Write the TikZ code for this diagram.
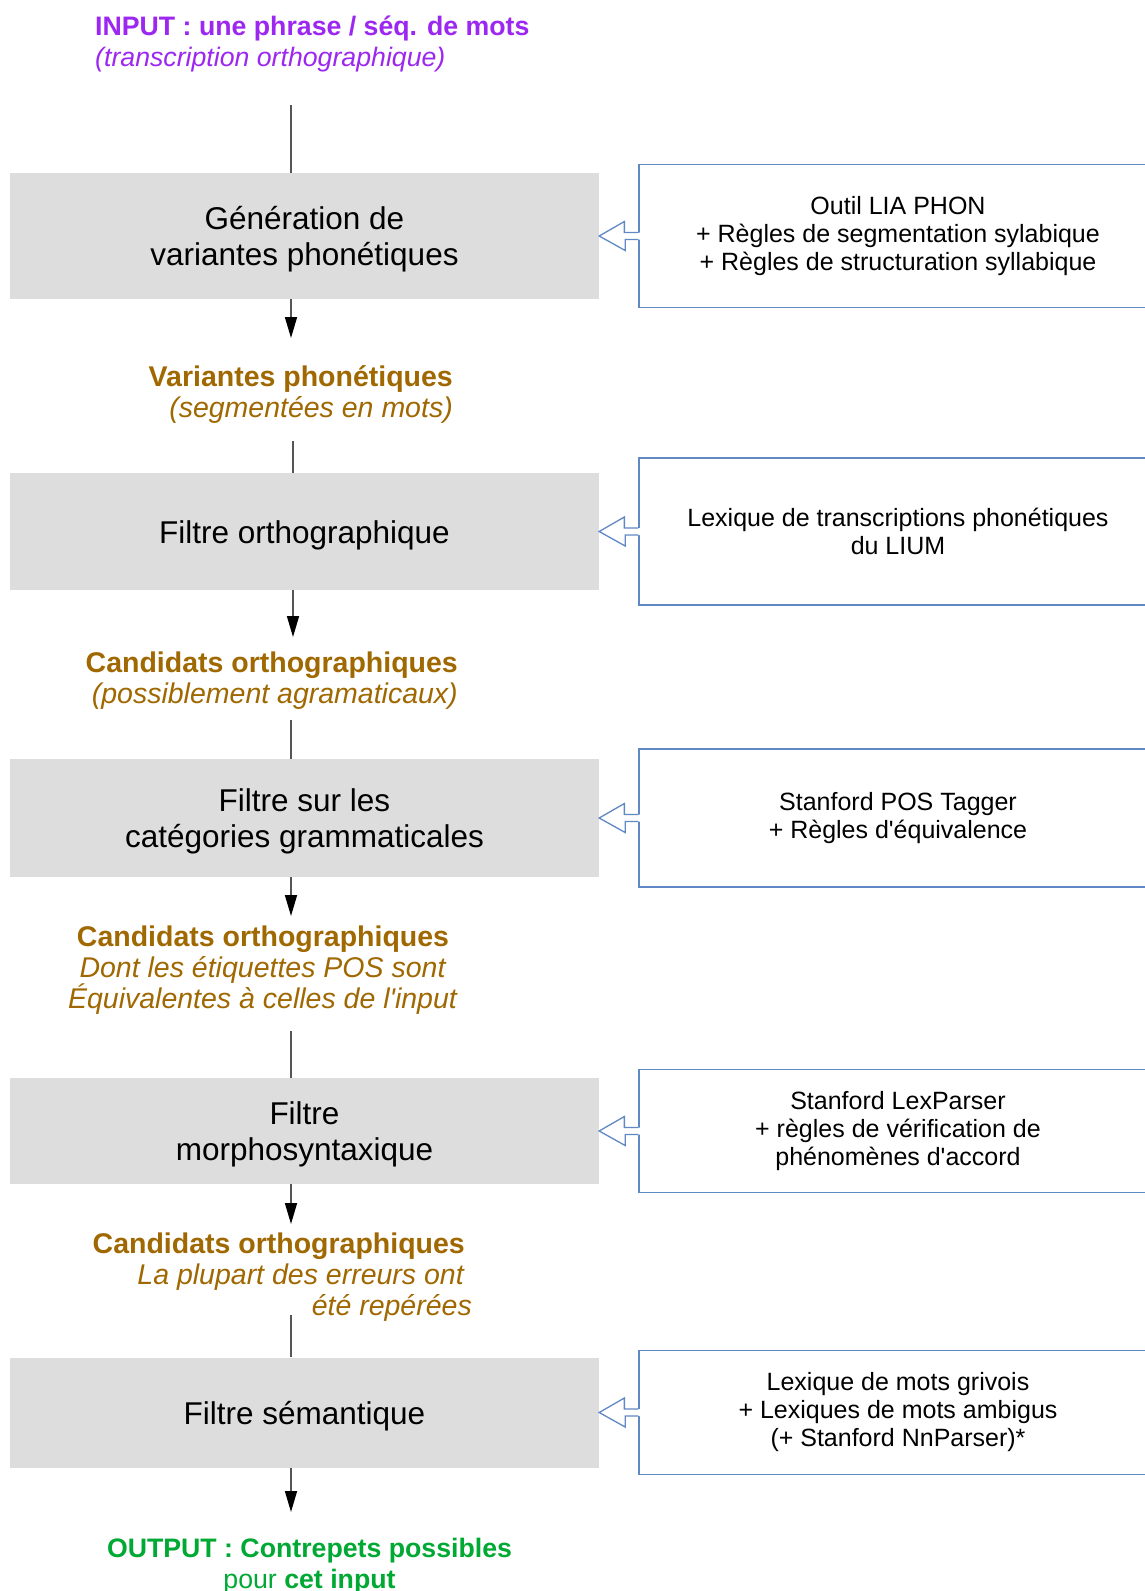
\documentclass[tikz,border=0pt]{standalone}
\usepackage{fontspec}
\setmainfont{Liberation Sans}
\usetikzlibrary{arrows.meta}
\definecolor{inpurple}{HTML}{9C27F0}
\definecolor{midbrown}{HTML}{A06800}
\definecolor{outgreen}{HTML}{00A933}
\definecolor{boxgrey}{HTML}{DDDDDD}
\definecolor{toolblue}{HTML}{6088C4}
\definecolor{linegrey}{HTML}{555555}
\newcommand\stagestrut{\rule{0pt}{30pt}}
\newcommand\blkarrow[2]{%
  \fill[white] ([yshift=3.5pt,xshift=1.5pt]#1.west) -- ++(-15.5pt,0) -- ++(0,11pt) -- (#2.east)
     -- ++(26pt,-14.5pt) -- ++(0,11pt) -- ([yshift=-3.5pt,xshift=1.5pt]#1.west) -- cycle;
  \draw[blk] ([yshift=3.5pt]#1.west) -- ++(-14pt,0) -- ++(0,11pt) -- (#2.east)
     -- ++(26pt,-14.5pt) -- ++(0,11pt) -- ([yshift=-3.5pt]#1.west);}
\begin{document}
\begin{tikzpicture}[x=1pt,y=-1pt,
  stage/.style={fill=boxgrey, minimum width=589pt, inner sep=0pt, align=center,
    font=\fontsize{31.5}{36}\selectfont},
  tool/.style={draw=toolblue, line width=1.3pt, minimum width=518pt, inner sep=0pt,
    align=center, font=\fontsize{25}{28}\selectfont},
  midtext/.style={inner sep=0pt, text=midbrown, font=\fontsize{28.5}{31}\selectfont},
  endtext/.style={inner sep=0pt, font=\fontsize{26.7}{31}\selectfont},
  conn/.style={draw=linegrey, line width=1.6pt},
  flow/.style={conn, -{Triangle[length=21pt,width=12pt,color=black]}},
  blk/.style={draw=toolblue, line width=1.3pt, line join=miter}]
\useasboundingbox (0,0) rectangle (1145,1591);
\clip (0,0) rectangle (1145,1591);
\fill[white] (0,0) rectangle (1145,1591);

% input / output texts
\node[endtext, text=inpurple, anchor=west, align=left] (inp) at (95,43.5)
  {\textbf{INPUT : une phrase / séq. de mots}\\\textit{(transcription orthographique)}};
\node[endtext, text=outgreen, align=center] (outp) at (309.5,1566)
  {\textbf{OUTPUT : Contrepets possibles}\\pour \textbf{cet input}};

% intermediate texts
\node[midtext, anchor=east, align=right] (m1) at (453,394)
  {\textbf{Variantes phonétiques}\\\textit{(segmentées en mots)}};
\node[midtext, anchor=east, align=right] (m2) at (458,681)
  {\textbf{Candidats orthographiques}\\\textit{(possiblement agramaticaux)}};
\node[midtext, align=center] (m3) at (263,970.5)
  {\textbf{Candidats orthographiques}\\\textit{Dont les étiquettes POS sont}\\\textit{Équivalentes à celles de l\textquotesingle input}};
\node[midtext, anchor=east, align=right] (m4) at (465,1277.5)
  {\textbf{Candidats orthographiques}\\\textit{La plupart des erreurs ont}\\\textit{été repérées}\hspace*{-7pt}};

% stages
\node[stage, minimum height=126pt] (B1) at (304.5,236) {\stagestrut Génération de\\variantes phonétiques};
\node[stage, minimum height=117pt] (B2) at (304.5,531.5) {\stagestrut Filtre orthographique};
\node[stage, minimum height=118pt] (B3) at (304.5,818) {\stagestrut Filtre sur les\\catégories grammaticales};
\node[stage, minimum height=106pt] (B4) at (304.5,1131) {\stagestrut Filtre\\morphosyntaxique};
\node[stage, minimum height=110pt] (B5) at (304.5,1412.5) {\stagestrut Filtre sémantique};

% tools
\node[tool, minimum height=143pt] (R1) at (898,236)
  {Outil LIA PHON\\+ Règles de segmentation sylabique\\+ Règles de structuration syllabique};
\node[tool, minimum height=147pt] (R2) at (898,531.5)
  {Lexique de transcriptions phonétiques\\du LIUM};
\node[tool, minimum height=138pt] (R3) at (898,818)
  {Stanford POS Tagger\\+ Règles d\textquotesingle équivalence};
\node[tool, minimum height=123pt] (R4) at (898,1131)
  {Stanford LexParser\\+ règles de vérification de\\phénomènes d\textquotesingle accord};
\node[tool, minimum height=124pt] (R5) at (898,1412.5)
  {Lexique de mots grivois\\+ Lexiques de mots ambigus\\(+ Stanford NnParser)*};

\blkarrow{R1}{B1}
\blkarrow{R2}{B2}
\blkarrow{R3}{B3}
\blkarrow{R4}{B4}
\blkarrow{R5}{B5}

% vertical connectors
\coordinate (s1) at (291,105);
\coordinate (t1) at (291,338);
\coordinate (s2) at (293,441);
\coordinate (t2) at (293,637);
\coordinate (s3) at (291,720);
\coordinate (t3) at (291,916);
\coordinate (s4) at (291,1031);
\coordinate (t4) at (291,1224);
\coordinate (s5) at (291,1315);
\coordinate (t5) at (291,1512);
\draw[conn] (s1) -- (s1 |- B1.north);
\draw[flow] (t1 |- B1.south) -- (t1);
\draw[conn] (s2) -- (s2 |- B2.north);
\draw[flow] (t2 |- B2.south) -- (t2);
\draw[conn] (s3) -- (s3 |- B3.north);
\draw[flow] (t3 |- B3.south) -- (t3);
\draw[conn] (s4) -- (s4 |- B4.north);
\draw[flow] (t4 |- B4.south) -- (t4);
\draw[conn] (s5) -- (s5 |- B5.north);
\draw[flow] (t5 |- B5.south) -- (t5);
\end{tikzpicture}
\end{document}
